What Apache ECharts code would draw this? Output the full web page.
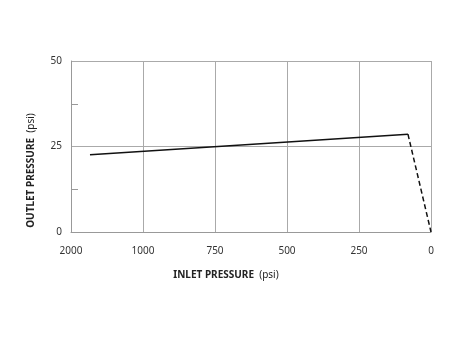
<!DOCTYPE html>
<html><head><meta charset="utf-8">
<script src="https://cdn.jsdelivr.net/npm/echarts@6/dist/echarts.min.js"></script>
<style>html,body{margin:0;padding:0;background:#fff}#c{width:450px;height:338px}</style>
</head><body><div id="c"></div>
<script>
// Tick labels on the inlet axis (equally spaced on the chart)
const inletTicks = [2000, 1000, 750, 500, 250, 0];
const outletTicks = [0, 25, 50];
// Regulated curve (solid)
const solidInlet = [1736, 80];
const solidOutlet = [22.6, 28.6];
// Drop-off (dashed)
const dashInlet = [80, 0];
const dashOutlet = [28.6, 0];

// map inlet psi to position along the equally spaced tick axis
function pos(p) {
  for (let i = 0; i < inletTicks.length - 1; i++) {
    const a = inletTicks[i], b = inletTicks[i + 1];
    if (p <= a && p >= b) return i + (a - p) / (a - b);
  }
  return p > inletTicks[0] ? 0 : inletTicks.length - 1;
}
const toData = (xs, ys) => xs.map((x, i) => [pos(x), ys[i]]);

const font = '"Noto Sans", "Open Sans", sans-serif';
const chart = echarts.init(document.getElementById('c'));
chart.setOption({
  animation: false,
  grid: { left: 71, right: 19, top: 61, bottom: 106 },
  xAxis: {
    type: 'value', min: 0, max: inletTicks.length - 1, interval: 1,
    axisLine: { show: true, lineStyle: { color: '#999', width: 1 } },
    axisTick: { show: false },
    splitLine: { show: true, lineStyle: { color: '#aaa', width: 1 } },
    axisLabel: { formatter: v => String(inletTicks[Math.round(v)]), margin: 14, color: '#333', fontSize: 10, fontFamily: font },
    name: '{b|INLET PRESSURE}{n|  (psi)}', nameLocation: 'middle', nameGap: 38,
    nameTextStyle: { padding: [0, 50, 0, 0], rich: {
      b: { fontWeight: 'bold', fontSize: 10, color: '#222', fontFamily: font },
      n: { fontSize: 10, color: '#222', fontFamily: font } } }
  },
  yAxis: {
    type: 'value', min: outletTicks[0], max: outletTicks[outletTicks.length - 1], interval: 25,
    axisLine: { show: true, lineStyle: { color: '#999', width: 1 } },
    axisTick: { show: false, inside: true },
    minorTick: { show: true, splitNumber: 2, length: 7, lineStyle: { color: '#999' } },
    splitLine: { show: true, lineStyle: { color: '#aaa', width: 1 } },
    axisLabel: { margin: 9, color: '#333', fontSize: 10, fontFamily: font },
    name: '{b|OUTLET PRESSURE}{n|  (psi)}', nameLocation: 'middle', nameGap: 35,
    nameTextStyle: { padding: [0, 48, 0, 0], rich: {
      b: { fontWeight: 'bold', fontSize: 10, color: '#222', fontFamily: font },
      n: { fontSize: 10, color: '#222', fontFamily: font } } }
  },
  series: [
    { type: 'line', data: toData(solidInlet, solidOutlet), symbol: 'none',
      lineStyle: { color: '#111', width: 1.5 } },
    { type: 'line', data: toData(dashInlet, dashOutlet), symbol: 'none',
      lineStyle: { color: '#111', width: 1.5, type: [5, 3] } }
  ]
});
</script></body></html>
